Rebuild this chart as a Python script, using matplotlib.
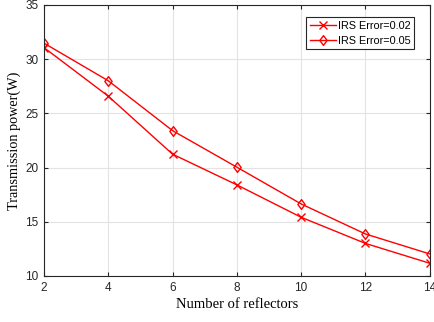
import matplotlib
matplotlib.use('Agg')
import matplotlib.pyplot as plt
from matplotlib.path import Path

# Transmission power vs number of IRS reflectors
reflectors = [2, 4, 6, 8, 10, 12, 14]
power_err002 = [31.06, 26.58, 21.23, 18.40, 15.41, 13.00, 11.17]
power_err005 = [31.47, 28.00, 23.40, 20.03, 16.64, 13.87, 12.03]

# slightly tall diamond marker
diamond = Path([(0, 1), (0.75, 0), (0, -1), (-0.75, 0), (0, 1)],
               [Path.MOVETO, Path.LINETO, Path.LINETO, Path.LINETO, Path.CLOSEPOLY])

fig = plt.figure(figsize=(4.35, 3.22), dpi=100)
ax = fig.add_axes([0.101, 0.143, 0.887, 0.842])

ax.plot(reflectors, power_err002, '-x', color='#ff0000', linewidth=1.0,
        markersize=6, markeredgewidth=1.0, label='IRS Error=0.02')
ax.plot(reflectors, power_err005, '-', marker=diamond, color='#ff0000',
        linewidth=1.0, markersize=7, markeredgewidth=1.0,
        markerfacecolor='none', label='IRS Error=0.05')

ax.set_xlim(2, 14)
ax.set_ylim(10, 35)
ax.set_xticks([2, 4, 6, 8, 10, 12, 14])
ax.set_yticks([10, 15, 20, 25, 30, 35])
ax.grid(True, color='#e3e3e3', linewidth=0.8)
ax.set_axisbelow(True)

ax.tick_params(direction='in', top=True, right=True, length=3,
               labelsize=8.5, colors='#262626', width=0.8, pad=4)
for lbl in ax.get_xticklabels() + ax.get_yticklabels():
    lbl.set_family('Liberation Sans')
for sp in ax.spines.values():
    sp.set_color('#262626')
    sp.set_linewidth(0.8)

ax.set_xlabel('Number of reflectors', family='Liberation Serif',
              fontsize=10.5, labelpad=3)
ax.set_ylabel('Transmission power(W)', family='Liberation Serif',
              fontsize=10.3, labelpad=3)

leg = ax.legend(loc='upper right', bbox_to_anchor=(0.96, 0.955),
                fancybox=False, edgecolor='#262626', framealpha=1,
                handlelength=2.4, borderpad=0.35, labelspacing=0.45,
                handletextpad=0.2, borderaxespad=0,
                prop={'family': 'Liberation Sans', 'size': 7.8})
leg.get_frame().set_linewidth(0.8)

plt.savefig('out.png', dpi=100)
